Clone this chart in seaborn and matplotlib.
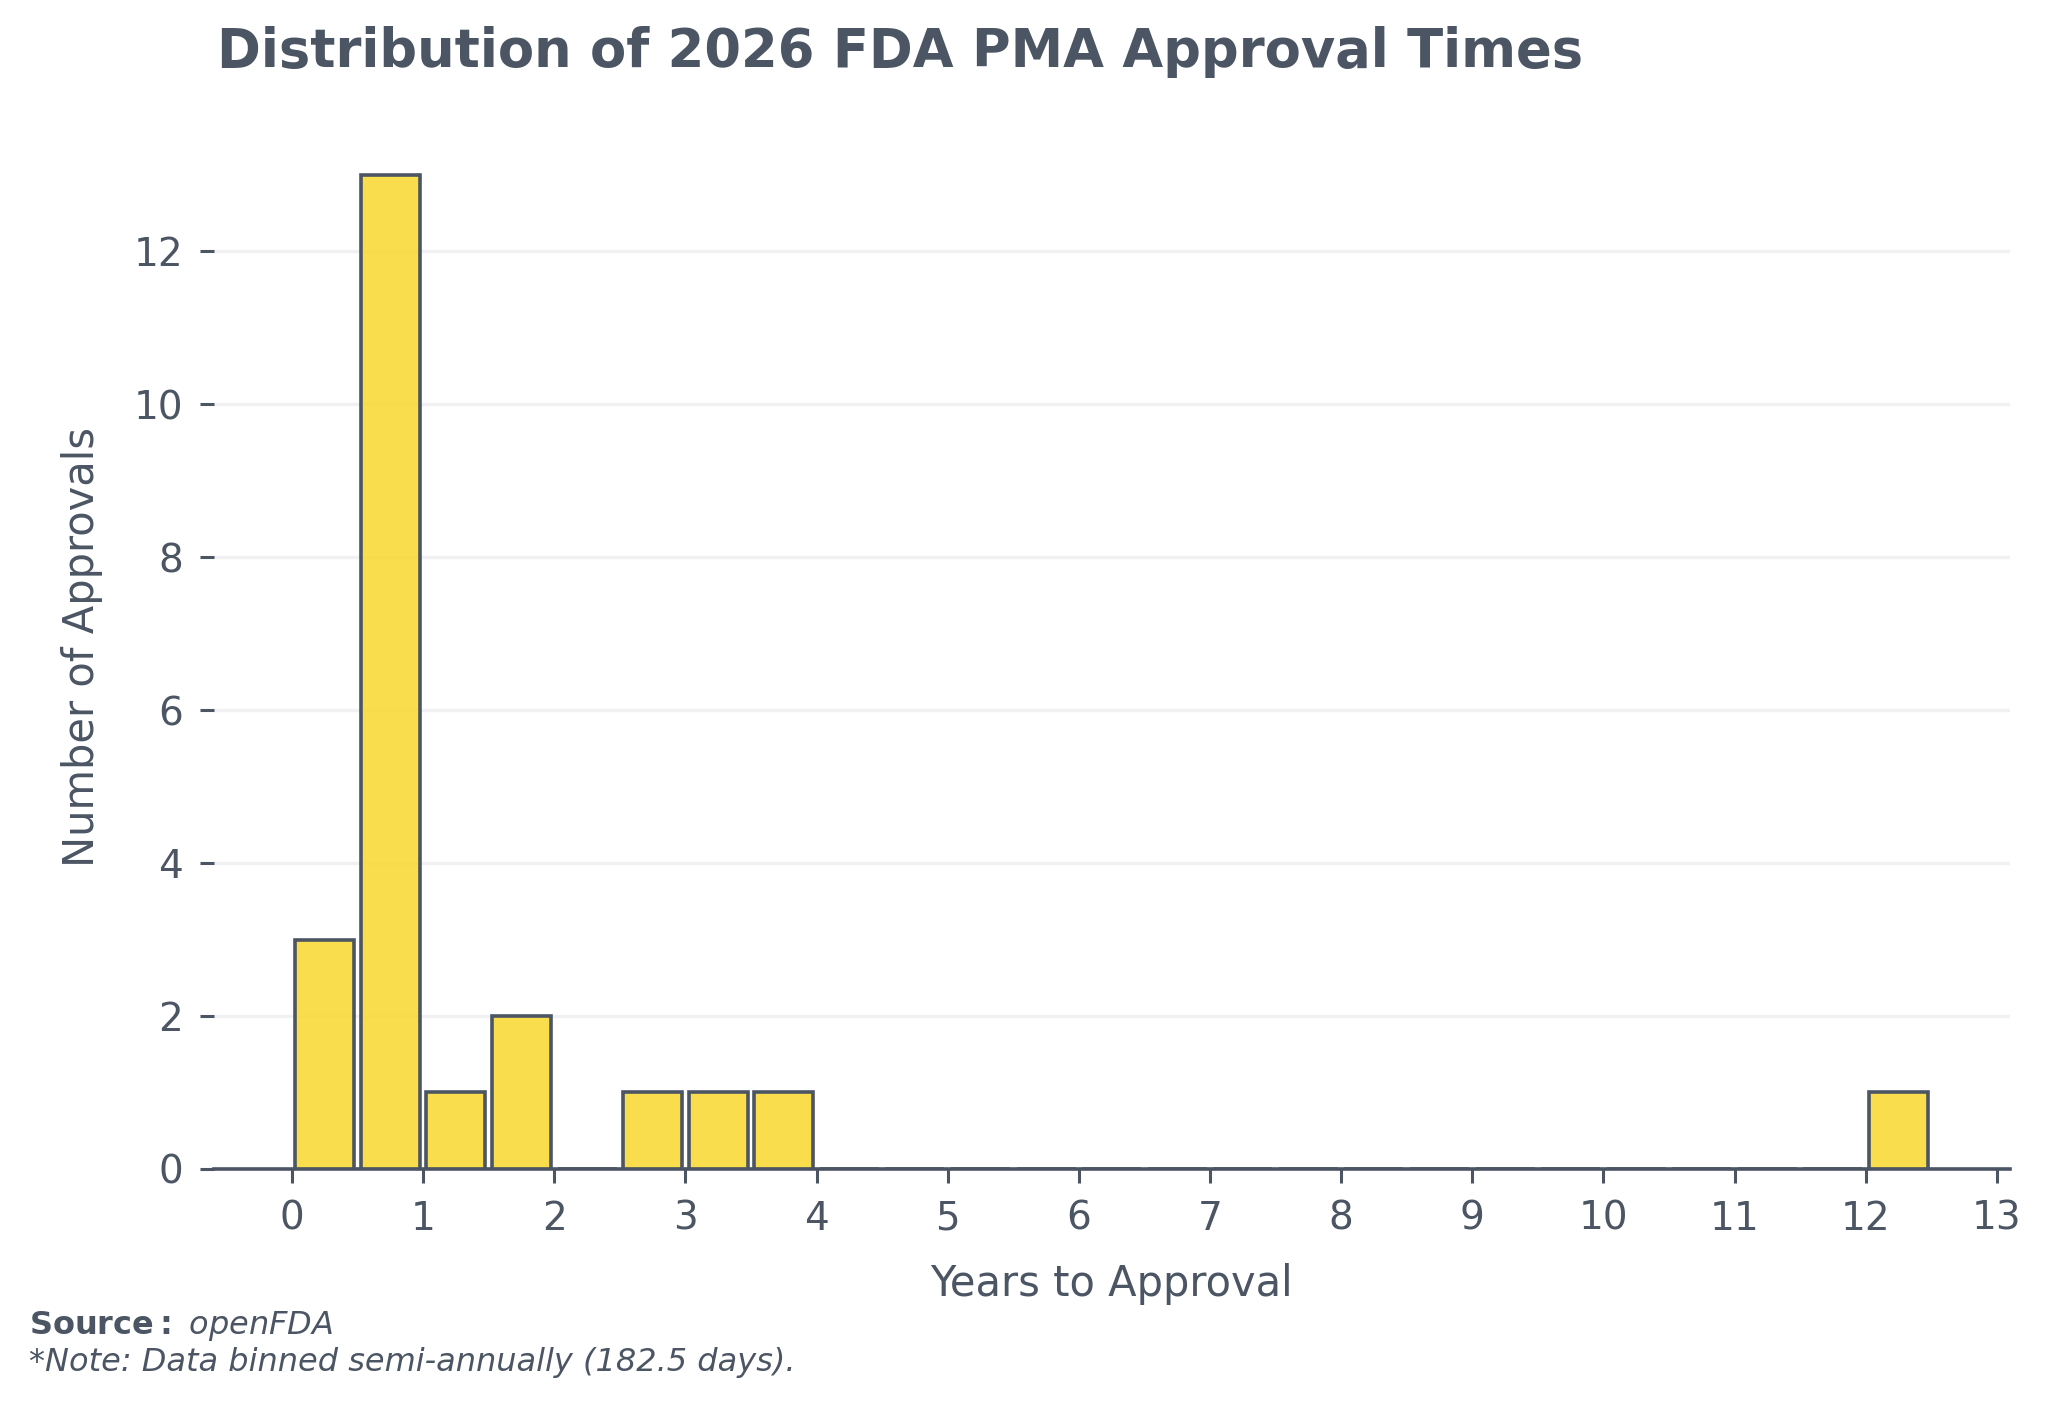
import matplotlib
matplotlib.use("Agg")
import matplotlib.pyplot as plt
import seaborn as sns
import pandas as pd

# Data: semi-annual bins (0.5 year = 182.5 days), representative years and counts
approval_years = [0.25, 0.75, 1.25, 1.75, 2.75, 3.25, 3.75, 12.25]
approval_counts = [3, 13, 1, 2, 1, 1, 1, 1]
x_ticks = list(range(0, 14))
y_ticks = [0, 2, 4, 6, 8, 10, 12]

TEXT = "#4B5563"
FILL = "#F9D82E"
GRID = "#F0F1F3"

df = pd.DataFrame({"years": approval_years, "count": approval_counts})

sns.set_theme(style="white")
plt.rcParams["font.family"] = ["DejaVu Sans"]

fig = plt.figure(figsize=(10.24, 7.025), dpi=200)
ax = fig.add_axes([0.1043, 0.168, 0.877, 0.743])

sns.histplot(data=df, x="years", weights="count", binwidth=0.5, binrange=(0, 12.5),
             shrink=0.9, color=FILL, alpha=0.85, edgecolor=TEXT, linewidth=1.3, ax=ax, zorder=3)

ax.set_xticks(x_ticks)
ax.set_yticks(y_ticks)
ax.yaxis.grid(True, color=GRID, linewidth=1.2, zorder=0)
ax.xaxis.grid(False)
ax.set_axisbelow(True)

for s in ["top", "right", "left"]:
    ax.spines[s].set_visible(False)
ax.spines["bottom"].set_color(TEXT)
ax.spines["bottom"].set_linewidth(1.3)

ax.tick_params(axis="both", colors=TEXT, labelsize=14, length=5, width=1.1, pad=6,
               bottom=True, left=True)
ax.set_xlabel("Years to Approval", fontsize=15, color=TEXT, labelpad=9)
ax.set_ylabel("Number of Approvals", fontsize=15, color=TEXT, labelpad=11)

fig.text(0.106, 0.963, "Distribution of 2026 FDA PMA Approval Times", fontsize=19,
         fontweight="bold", color=TEXT, ha="left", va="center")

fig.text(0.0143, 0.0505, r"$\bf{Source:}$ openFDA", fontsize=11.5, style="italic",
         color=TEXT, ha="left", va="baseline")
fig.text(0.0143, 0.0242, "*Note: Data binned semi-annually (182.5 days).", fontsize=11.5,
         style="italic", color=TEXT, ha="left", va="baseline")

fig.savefig("out.png", dpi=200, facecolor="white")
